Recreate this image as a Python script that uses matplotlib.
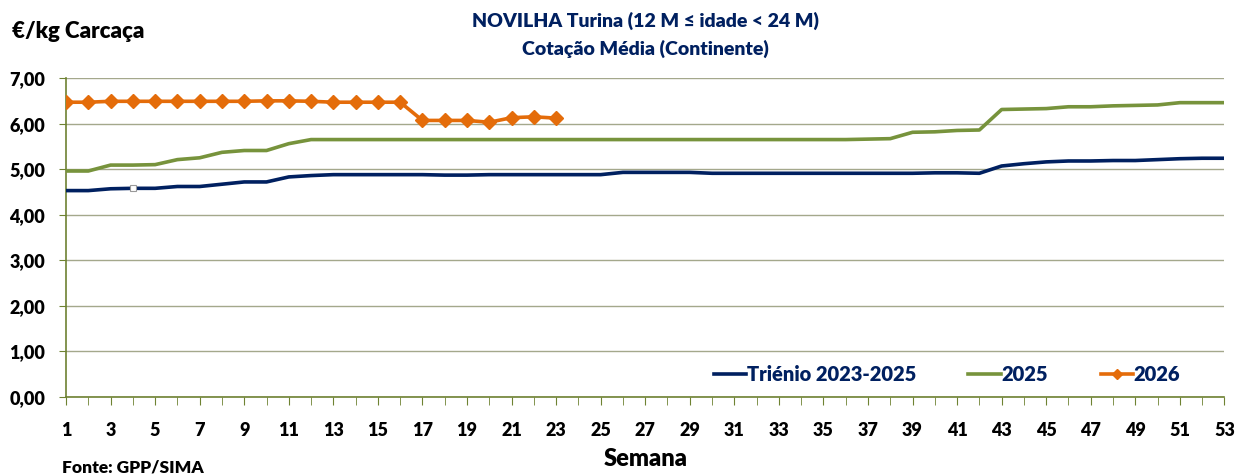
import matplotlib.pyplot as plt
import numpy as np
from matplotlib.ticker import FuncFormatter, MultipleLocator, FixedLocator

plt.rcParams['font.family'] = ['Lato', 'DejaVu Sans']

semanas = np.arange(1, 54)

trienio = [4.53, 4.53, 4.57, 4.58, 4.58, 4.62, 4.62, 4.67, 4.72, 4.72,
           4.83, 4.86, 4.88, 4.88, 4.88, 4.88, 4.88, 4.87, 4.87, 4.88,
           4.88, 4.88, 4.88, 4.88, 4.88, 4.93, 4.93, 4.93, 4.93, 4.91,
           4.91, 4.91, 4.91, 4.91, 4.91, 4.91, 4.91, 4.91, 4.91, 4.92,
           4.92, 4.91, 5.07, 5.12, 5.16, 5.18, 5.18, 5.19, 5.19, 5.21,
           5.23, 5.24, 5.24]

ano2025 = [4.96, 4.96, 5.09, 5.09, 5.10, 5.21, 5.25, 5.37, 5.41, 5.41,
           5.56, 5.65, 5.65, 5.65, 5.65, 5.65, 5.65, 5.65, 5.65, 5.65,
           5.65, 5.65, 5.65, 5.65, 5.65, 5.65, 5.65, 5.65, 5.65, 5.65,
           5.65, 5.65, 5.65, 5.65, 5.65, 5.65, 5.66, 5.67, 5.81, 5.82,
           5.85, 5.86, 6.31, 6.32, 6.33, 6.37, 6.37, 6.39, 6.40, 6.41,
           6.46, 6.46, 6.46]

ano2026 = [6.47, 6.47, 6.49, 6.49, 6.49, 6.49, 6.49, 6.49, 6.49, 6.50,
           6.50, 6.49, 6.47, 6.47, 6.47, 6.47, 6.07, 6.07, 6.07, 6.03,
           6.13, 6.15, 6.12]

navy = '#002060'
verde = '#77933C'
laranja = '#E46C0A'
eixo = '#6E8232'
peso = 'heavy'

fig = plt.figure(figsize=(12.48, 4.76), dpi=100)
ax = fig.add_axes([0.0529, 0.166, 0.9282, 0.670])

ax.plot(semanas, trienio, color=navy, lw=2.6, label='Triénio 2023-2025',
        marker='s', markevery=[3], markersize=5, markerfacecolor='white',
        markeredgecolor='#999999', markeredgewidth=0.8, zorder=3)
ax.plot(semanas, ano2025, color=verde, lw=2.6, label='2025', zorder=3)
ax.plot(semanas[:len(ano2026)], ano2026, color=laranja, lw=2.6, marker='D',
        markersize=7, label='2026', zorder=4)

ax.set_xlim(1, 53)
ax.set_ylim(0, 7)
ax.xaxis.set_major_locator(FixedLocator(list(range(1, 54, 2))))
ax.xaxis.set_minor_locator(MultipleLocator(1))
ax.yaxis.set_major_locator(MultipleLocator(1))
ax.yaxis.set_major_formatter(FuncFormatter(lambda v, p: f'{v:.2f}'.replace('.', ',')))

ax.grid(axis='y', color='#A4A88C', lw=1)
ax.set_axisbelow(True)
for s in ['top', 'right']:
    ax.spines[s].set_visible(False)
for s in ['left', 'bottom']:
    ax.spines[s].set_color(eixo)
    ax.spines[s].set_linewidth(1.2)

ax.tick_params(axis='x', which='both', direction='out', length=6, color=eixo,
               labelsize=13, pad=12)
ax.tick_params(axis='y', direction='out', length=5, color=eixo, labelsize=13, pad=10)
for lab in ax.get_xticklabels() + ax.get_yticklabels():
    lab.set_fontweight(peso)

leg = ax.legend(loc='center right', bbox_to_anchor=(0.962, 0.07), ncol=3, frameon=False,
                handlelength=1.6, handletextpad=0.05, columnspacing=2.6,
                borderaxespad=0, borderpad=0, prop={'weight': peso, 'size': 14.5})
for t in leg.get_texts():
    t.set_color(navy)
leg.legend_handles[0].set_marker('')
leg.legend_handles[2].set_markersize(5)

fig.text(0.517, 0.957, 'NOVILHA Turina (12 M ≤ idade < 24 M)', ha='center', va='center',
         fontsize=14, fontweight=peso, color=navy)
fig.text(0.517, 0.898, 'Cotação Média (Continente)', ha='center', va='center',
         fontsize=14, fontweight=peso, color=navy)
fig.text(0.010, 0.933, '€/kg Carcaça', ha='left', va='center', fontsize=16,
         fontweight=peso, color='black')
fig.text(0.517, 0.035, 'Semana', ha='center', va='center', fontsize=17,
         fontweight=peso, color='black')
fig.text(0.050, 0.018, 'Fonte: GPP/SIMA', ha='left', va='center', fontsize=12.5,
         fontweight=peso, color='black')

fig.savefig('out.png', dpi=100)
